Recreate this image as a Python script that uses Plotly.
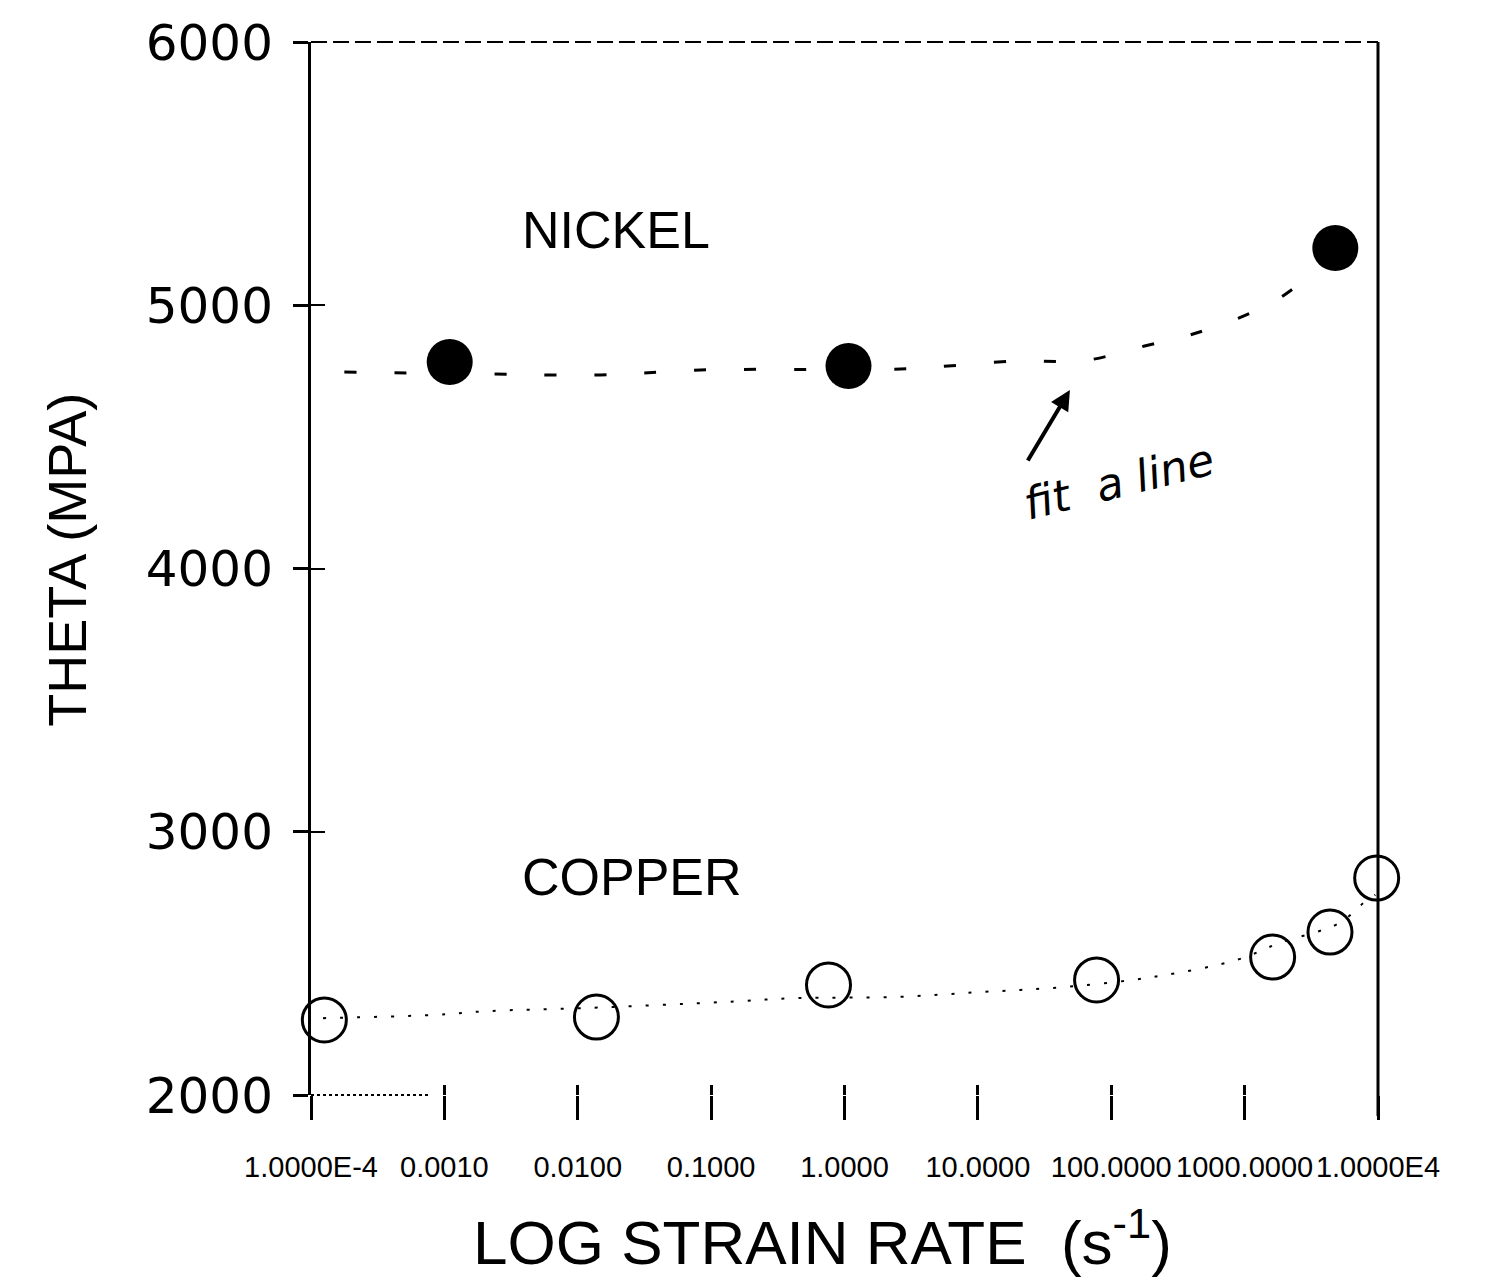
import plotly.graph_objects as go

# ---- data ----
nickel_x = [-2.96, 0.03, 3.68]
nickel_y = [4784, 4769, 5217]

copper_x = [-3.90, -1.86, -0.12, 1.89, 3.21, 3.64, 3.99]
copper_y = [2285, 2296, 2418, 2437, 2524, 2619, 2824]

nickel_fit_x = [-3.75, -2.70, -1.83, -1.08, 0.42, 0.72, 1.28, 1.80, 2.25, 2.59, 2.96, 3.24, 3.45]
nickel_fit_y = [4746, 4739, 4735, 4754, 4758, 4767, 4788, 4790, 4845, 4887, 4952, 5020, 5096]

copper_fit_x = [-3.91, -3.09, -2.66, -1.96, -0.91, -0.36, 0.36, 1.02, 1.64, 2.31, 2.94, 3.26, 3.71, 3.89, 3.98]
copper_fit_y = [2292, 2304, 2319, 2330, 2353, 2368, 2372, 2391, 2410, 2448, 2513, 2577, 2653, 2729, 2760]

x_tickvals = [-4, -3, -2, -1, 0, 1, 2, 3, 4]
x_ticktext = ["1.0000E-4", "0.0010", "0.0100", "0.1000", "1.0000",
              "10.0000", "100.0000", "1000.0000", "1.0000E4"]
y_tickvals = [2000, 3000, 4000, 5000, 6000]
y_ticktext = ["2000", "3000", "4000", "5000", "6000"]

fig = go.Figure()

fig.add_trace(go.Scatter(x=nickel_fit_x, y=nickel_fit_y, mode="lines",
                         line=dict(color="black", width=3, dash="12px,38px"),
                         line_shape="spline", showlegend=False))
fig.add_trace(go.Scatter(x=copper_fit_x, y=copper_fit_y, mode="lines",
                         line=dict(color="black", width=2, dash="3px,14px"),
                         line_shape="spline", showlegend=False))
fig.add_trace(go.Scatter(x=nickel_x, y=nickel_y, mode="markers", cliponaxis=False,
                         marker=dict(symbol="circle", size=46, color="black"),
                         showlegend=False))
fig.add_trace(go.Scatter(x=copper_x, y=copper_y, mode="markers", cliponaxis=False,
                         marker=dict(symbol="circle-open", size=44, color="black",
                                     line=dict(width=3, color="black")),
                         showlegend=False))
# invisible trace for overlay axes
fig.add_trace(go.Scatter(x=[-4], y=[2000], xaxis="x2", yaxis="y2", mode="markers",
                         marker=dict(opacity=0), showlegend=False, hoverinfo="skip"))

tick_font = dict(family="DejaVu Sans", size=50, color="black")
xtick_font = dict(family="Liberation Sans", size=29, color="black")

fig.update_layout(
    width=1508, height=1285,
    margin=dict(l=311, r=130, t=42, b=190, autoexpand=False),
    paper_bgcolor="white", plot_bgcolor="white",
    xaxis=dict(range=[-4, 4], tickmode="array", tickvals=x_tickvals, ticktext=x_ticktext,
               tickfont=xtick_font, ticks="outside", ticklen=24, tickwidth=3, tickcolor="black",
               tickangle=0, automargin=False,
               showgrid=False, zeroline=False, showline=False, ticklabelstandoff=22),
    yaxis=dict(range=[2000, 6000], tickmode="array", tickvals=y_tickvals, ticktext=y_ticktext,
               tickfont=tick_font, ticks="outside", ticklen=15, tickwidth=3, tickcolor="black",
               automargin=False,
               showgrid=False, zeroline=False, showline=True, linecolor="black", linewidth=3,
               ticklabelstandoff=10),
    xaxis2=dict(range=[-4, 4], overlaying="x", tickmode="array", tickvals=x_tickvals,
                showticklabels=False, ticks="inside", ticklen=10, tickwidth=3, tickcolor="black",
                automargin=False,
                showgrid=False, zeroline=False, showline=False, side="bottom", anchor="y2"),
    yaxis2=dict(range=[2000, 6000], overlaying="y", tickmode="array", tickvals=[3000, 4000, 5000],
                showticklabels=False, ticks="inside", ticklen=14, tickwidth=2, tickcolor="black",
                automargin=False,
                showgrid=False, zeroline=False, showline=False, side="left", anchor="x2"),
    shapes=[
        dict(type="line", xref="paper", yref="paper", x0=0, x1=1, y0=1, y1=1,
             line=dict(color="black", width=2, dash="16px,6px")),
        dict(type="line", xref="paper", yref="paper", x0=1, x1=1, y0=-0.02, y1=1,
             line=dict(color="black", width=3)),
        dict(type="line", xref="paper", yref="paper", x0=0, x1=0.11, y0=0, y1=0,
             line=dict(color="black", width=2, dash="dot")),
    ],
    annotations=[
        dict(text="NICKEL", x=-1.71, y=5286, xref="x", yref="y", showarrow=False,
             font=dict(family="Liberation Sans", size=52, color="black")),
        dict(text="COPPER", x=-1.59, y=2828, xref="x", yref="y", showarrow=False,
             font=dict(family="Liberation Sans", size=52, color="black")),
        dict(text="", x=1.69, y=4678, xref="x", yref="y", showarrow=True,
             ax=-43, ay=72, arrowhead=2, arrowsize=1.0, arrowwidth=4, arrowcolor="black"),
        dict(text="<i>fit  a line</i>", x=2.06, y=4330, xref="x", yref="y", showarrow=False,
             textangle=-14, font=dict(family="DejaVu Sans", size=44, color="black")),
        dict(text="THETA (MPA)", x=-0.259, y=0.508, xref="paper", yref="paper",
             showarrow=False, textangle=-90,
             font=dict(family="Liberation Sans", size=54, color="black")),
        dict(text="LOG STRAIN RATE  (s<sup>-1</sup>)", x=0.479, y=-0.175,
             xref="paper", yref="paper", showarrow=False,
             font=dict(family="Liberation Sans", size=62, color="black")),
    ],
)

fig.write_html("out.html")
